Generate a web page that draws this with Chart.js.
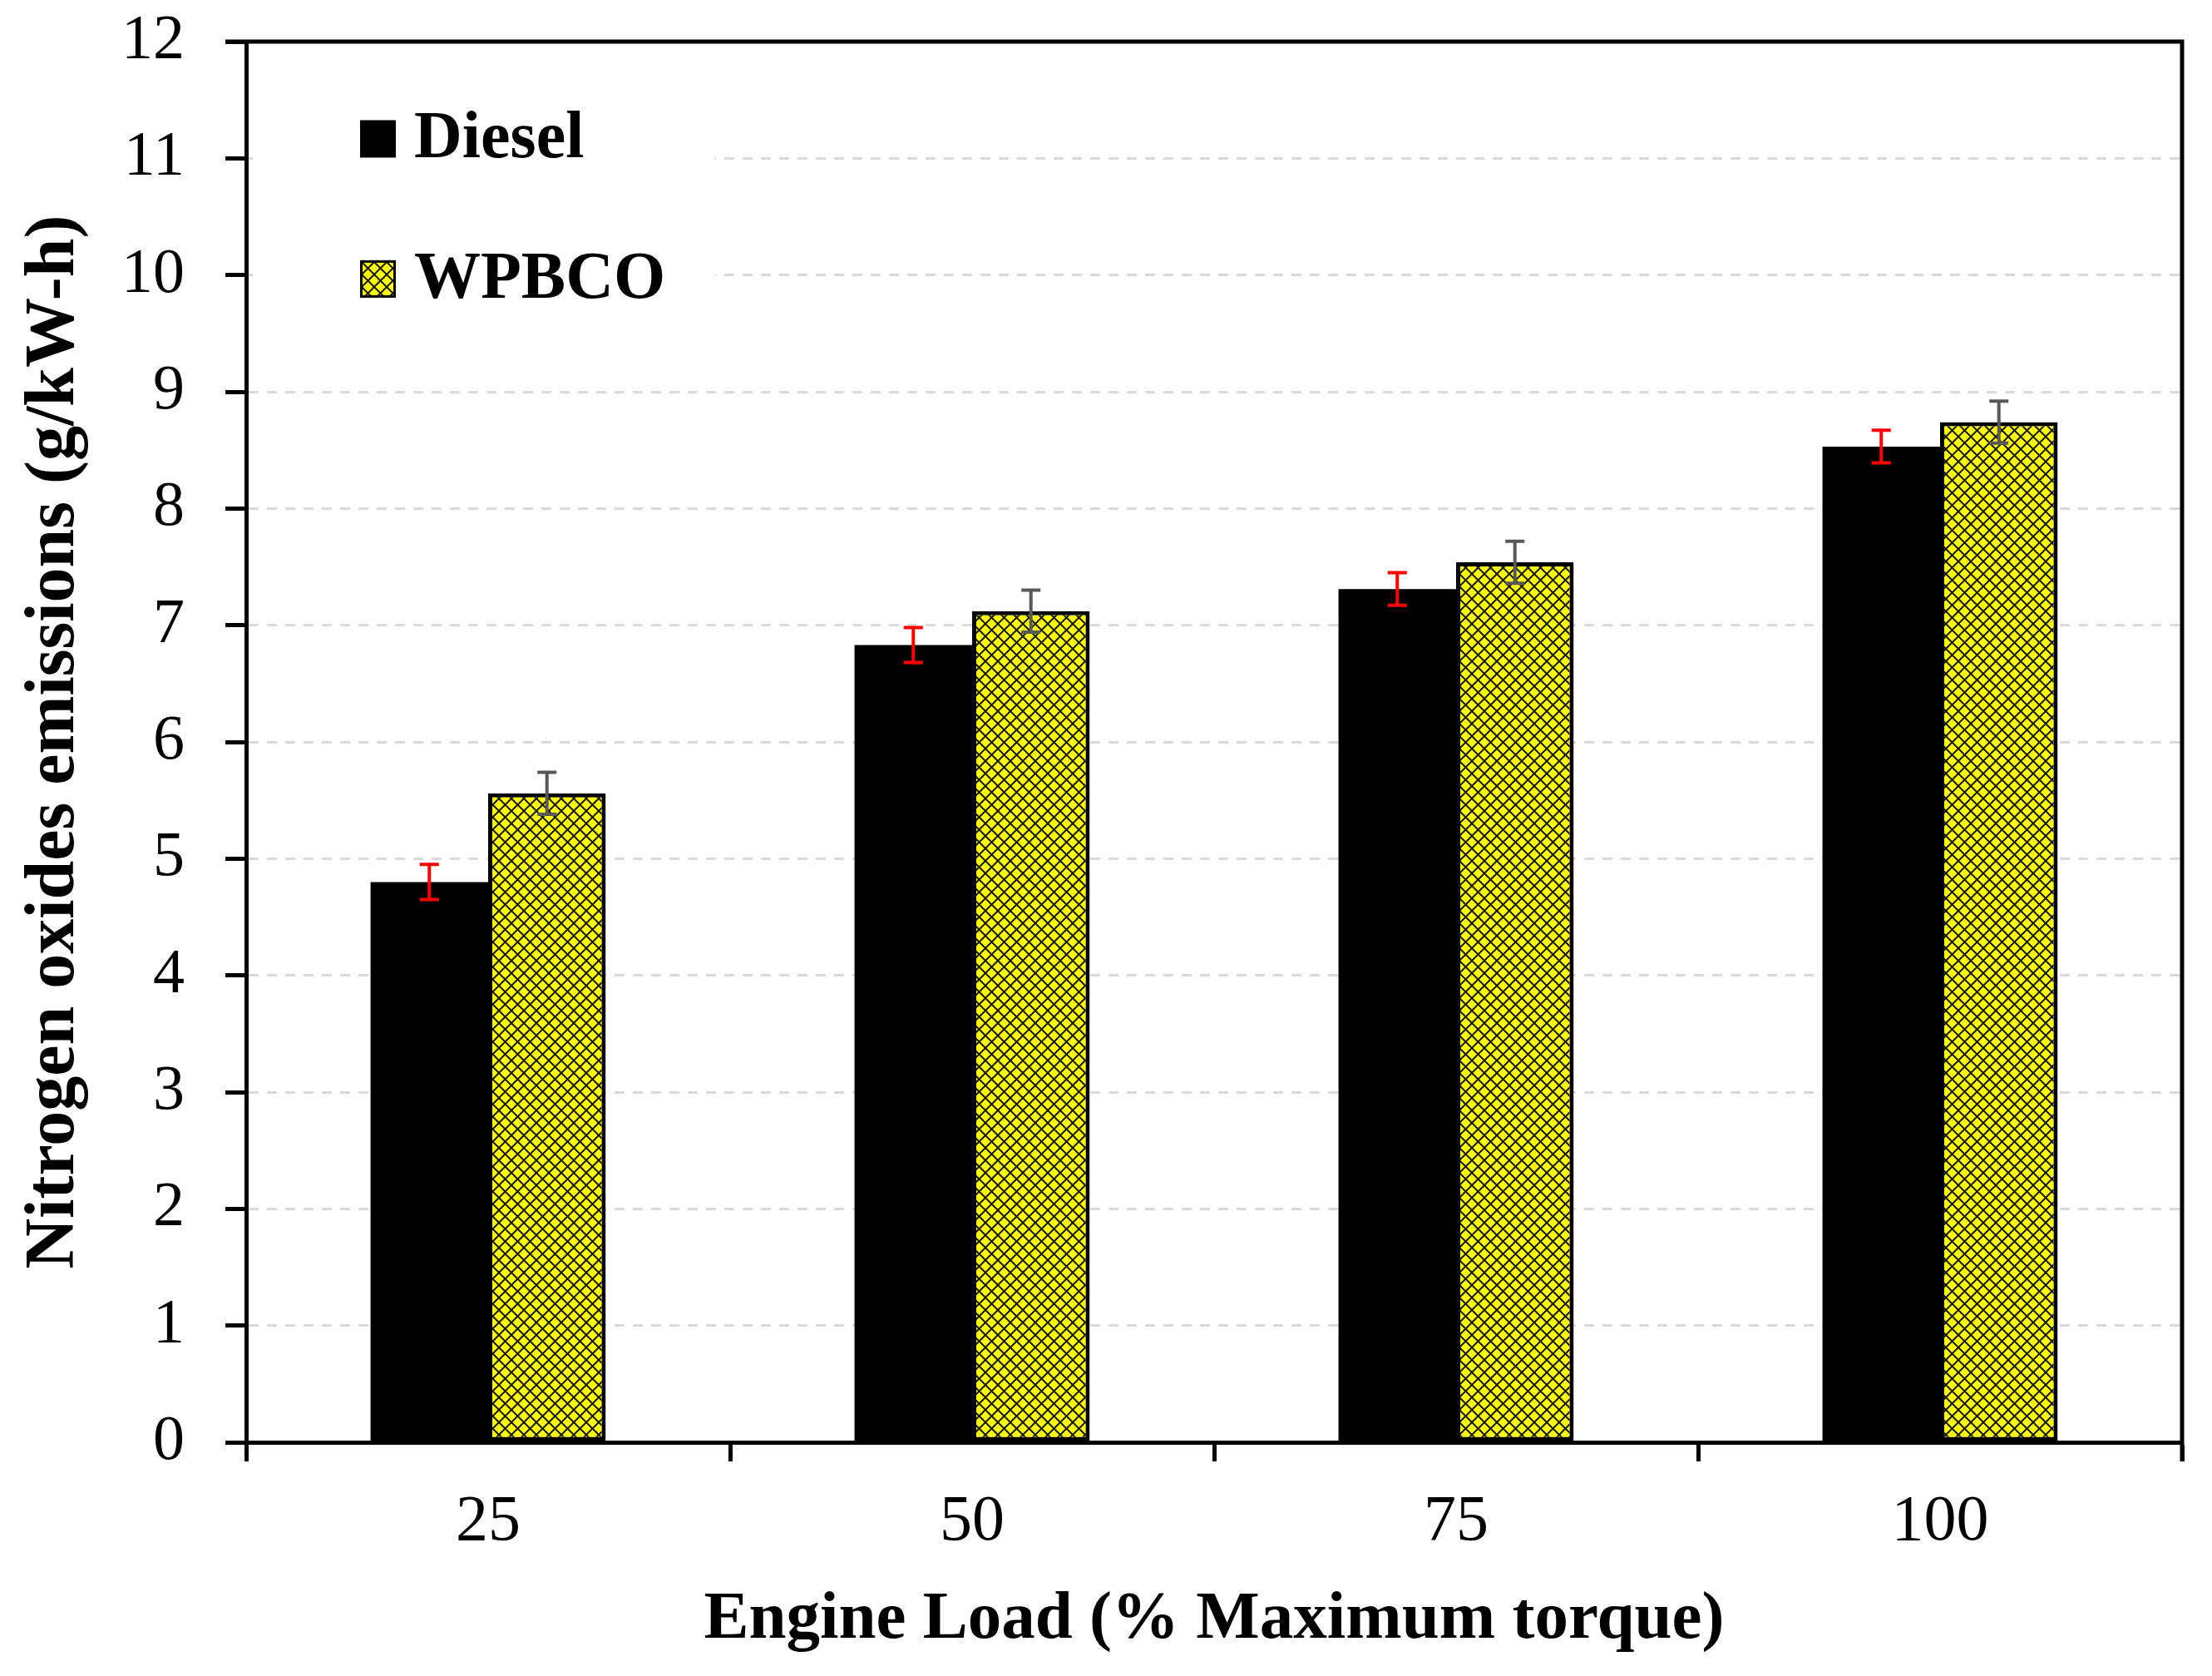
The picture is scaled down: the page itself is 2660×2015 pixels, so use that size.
<!DOCTYPE html>
<html>
<head>
<meta charset="utf-8">
<script src="https://cdn.jsdelivr.net/npm/chart.js@4.4.1/dist/chart.umd.min.js"></script>
<style>
  html, body { margin: 0; padding: 0; background: #fff; }
  #wrap { width: 2660px; height: 2015px; }
</style>
</head>
<body>
<div id="wrap"><canvas id="noxChart"></canvas></div>
<script>
// NOx emissions vs engine load - Diesel vs WPBCO

const loads = ['25', '50', '75', '100'];
const dieselNox = [4.80, 6.83, 7.31, 8.53];
const wpbcoNox = [5.56, 7.12, 7.54, 8.74];
const dieselErr = [0.15, 0.15, 0.14, 0.14];
const wpbcoErr = [0.18, 0.18, 0.18, 0.18];
const seriesNames = ['Diesel', 'WPBCO'];
const errColors = ['#ff0000', '#595959'];

const SERIF = '"Liberation Serif", "Times New Roman", serif';

const canvas = document.getElementById('noxChart');
const ctx = canvas.getContext('2d');

// yellow fill with black diagonal cross-hatch
function makeHatch() {
  const c = document.createElement('canvas');
  c.width = 15;
  c.height = 15;
  const g = c.getContext('2d');
  g.fillStyle = '#ffff00';
  g.fillRect(0, 0, 15, 15);
  g.strokeStyle = '#1a1a00';
  g.lineWidth = 2;
  g.beginPath();
  g.moveTo(-2, -2); g.lineTo(17, 17);
  g.moveTo(17, -2); g.lineTo(-2, 17);
  g.stroke();
  return ctx.createPattern(c, 'repeat');
}
const hatch = makeHatch();

// white legend box inside the plot + frame on top/right
const legendPlugin = {
  id: 'legendBox',
  beforeDatasetsDraw(chart) {
    const c = chart.ctx;
    const a = chart.chartArea;
    const y = chart.scales.y;
    c.save();
    c.fillStyle = '#fff';
    c.fillRect(a.left + 8, a.top + 4, 556, y.getPixelForValue(9.4) - a.top);

    const items = [
      { name: seriesNames[0], fill: '#000', yv: 11.17 },
      { name: seriesNames[1], fill: hatch, yv: 9.97 }
    ];
    c.font = 'bold 80px ' + SERIF;
    c.textBaseline = 'middle';
    c.textAlign = 'left';
    for (const it of items) {
      const cy = y.getPixelForValue(it.yv);
      c.fillStyle = it.fill;
      c.fillRect(a.left + 137, cy - 22, 43, 45);
      if (it.fill !== '#000') {
        c.strokeStyle = '#000';
        c.lineWidth = 3;
        c.strokeRect(a.left + 138.5, cy - 20.5, 40, 42);
      }
      c.fillStyle = '#000';
      c.fillText(it.name, a.left + 202, cy + 2);
    }

    // frame top and right
    c.strokeStyle = '#000';
    c.lineWidth = 5;
    c.beginPath();
    c.moveTo(a.left - 25, a.top);
    c.lineTo(a.right, a.top);
    c.lineTo(a.right, a.bottom + 23);
    c.stroke();
    c.restore();
  }
};

// error bars drawn on each bar through the y scale
const errorBarPlugin = {
  id: 'errorBars',
  afterDatasetsDraw(chart) {
    const c = chart.ctx;
    const y = chart.scales.y;
    const errs = [dieselErr, wpbcoErr];
    const vals = [dieselNox, wpbcoNox];
    c.save();
    c.lineWidth = 4;
    chart.data.datasets.forEach((ds, di) => {
      const meta = chart.getDatasetMeta(di);
      c.strokeStyle = errColors[di];
      meta.data.forEach((bar, i) => {
        const top = y.getPixelForValue(vals[di][i] + errs[di][i]);
        const bot = y.getPixelForValue(vals[di][i] - errs[di][i]);
        c.beginPath();
        c.moveTo(bar.x, top); c.lineTo(bar.x, bot);
        c.moveTo(bar.x - 11.5, top); c.lineTo(bar.x + 11.5, top);
        c.moveTo(bar.x - 11.5, bot); c.lineTo(bar.x + 11.5, bot);
        c.stroke();
      });
    });
    c.restore();
  }
};

new Chart(canvas, {
  type: 'bar',
  data: {
    labels: loads,
    datasets: [
      {
        label: seriesNames[0],
        data: dieselNox,
        backgroundColor: '#000',
        borderColor: '#000',
        borderWidth: 0,
        barPercentage: 1.0,
        categoryPercentage: 0.486
      },
      {
        label: seriesNames[1],
        data: wpbcoNox,
        backgroundColor: hatch,
        borderColor: '#000',
        borderWidth: 5,
        borderSkipped: false,
        barPercentage: 1.0,
        categoryPercentage: 0.486
      }
    ]
  },
  options: {
    responsive: true,
    maintainAspectRatio: false,
    animation: false,
    devicePixelRatio: 1,
    layout: { padding: { top: 50, right: 36, left: 0, bottom: 0 } },
    plugins: {
      legend: { display: false },
      tooltip: { enabled: false }
    },
    scales: {
      x: {
        afterFit(s) {
          s.height = 281;
          s.paddingLeft = 0;
          s.paddingRight = 0;
        },
        grid: {
          drawOnChartArea: false,
          drawTicks: true,
          tickLength: 23,
          tickWidth: 5,
          tickColor: '#000',
          offset: true
        },
        border: { display: true, color: '#000', width: 5 },
        ticks: {
          color: '#000',
          padding: 27,
          font: { family: SERIF, size: 78 }
        },
        title: {
          display: true,
          text: 'Engine Load (% Maximum torque)',
          color: '#000',
          font: { family: SERIF, size: 81, weight: 'bold' },
          padding: { top: 0, bottom: 18 }
        }
      },
      y: {
        min: 0,
        max: 12,
        afterFit(s) {
          s.width = 296;
          s.paddingTop = 0;
          s.paddingBottom = 0;
        },
        ticks: {
          stepSize: 0.5,
          color: '#000',
          padding: 49,
          font: { family: SERIF, size: 76 },
          callback: v => (v % 1 === 0 ? String(v) : '')
        },
        grid: {
          color: c => (c.tick && c.tick.value % 1 === 0 ? '#d9d9d9' : 'rgba(0,0,0,0)'),
          lineWidth: 3,
          drawTicks: true,
          tickLength: 25,
          tickWidth: 5,
          tickColor: '#000',
          tickBorderDash: []
        },
        border: { display: true, color: '#000', width: 5, dash: [12, 10] },
        title: {
          display: true,
          text: 'Nitrogen oxides emissions (g/kW-h)',
          color: '#000',
          font: { family: SERIF, size: 84, weight: 'bold' },
          padding: { top: 16, bottom: 0 }
        }
      }
    }
  },
  plugins: [legendPlugin, errorBarPlugin]
});
</script>
</body>
</html>
